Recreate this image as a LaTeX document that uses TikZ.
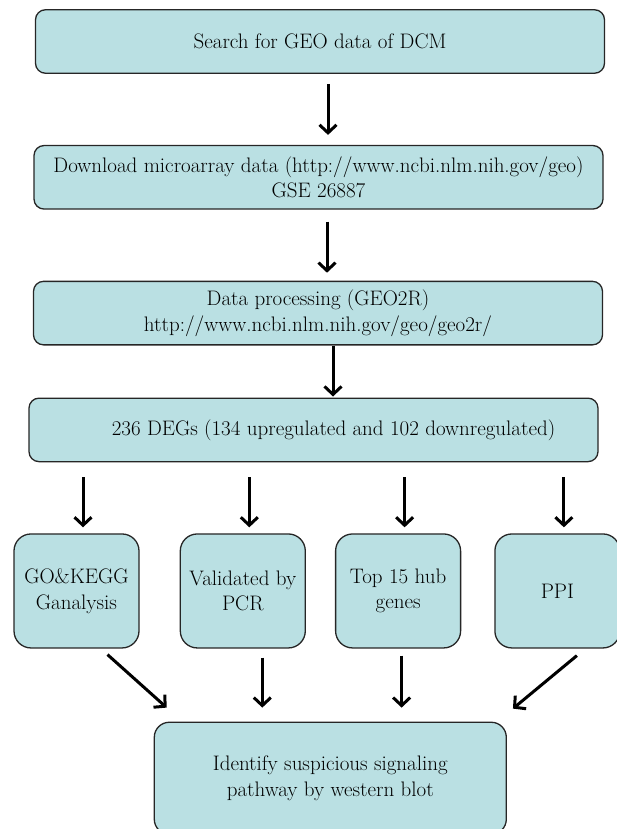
\documentclass[tikz,border=0pt]{standalone}
\usepackage{tikz}
\usetikzlibrary{arrows.meta,positioning,calc}
\definecolor{boxfill}{HTML}{BAE0E3}
\definecolor{boxline}{HTML}{262626}
\tikzset{
  mainbox/.style={rectangle,rounded corners=10pt,draw=boxline,fill=boxfill,line width=1.3pt,
    minimum width=569pt,minimum height=63.5pt,align=center,font=\fontsize{21}{25.5}\selectfont},
  rowbox/.style={mainbox,rounded corners=17pt,minimum width=125pt,minimum height=114pt,inner sep=1pt},
  endbox/.style={mainbox,rounded corners=15pt,minimum width=352pt,minimum height=112pt},
  farrow/.style={-{Straight Barb[length=8pt,width=17pt]},line width=3pt}
}

\begin{document}
\begin{tikzpicture}[node distance=71pt]
  \useasboundingbox (0,0) rectangle (616pt,-829pt);
  \node[mainbox] (search) at (320pt,-41.5pt) {Search for GEO data of DCM};
  \node[mainbox,below=of search,xshift=-1.5pt] (download) {Download microarray data (http://www.ncbi.nlm.nih.gov/geo)\\GSE 26887};
  \node[mainbox,below=of download,xshift=-0.5pt] (geotwor) {Data processing (GEO2R)\\http://www.ncbi.nlm.nih.gov/geo/geo2r/};
  \node[mainbox,below=52pt of geotwor,xshift=-4.5pt] (degs) {\hspace*{40pt}236 DEGs (134 upregulated and 102 downregulated)};
  \node[rowbox,anchor=north west] (gokegg) at ([shift={(-15pt,-71pt)}]degs.south west) {GO\&KEGG\\Ganalysis};
  \node[rowbox,right=40pt of gokegg] (pcr) {Validated by\\PCR};
  \node[rowbox,right=29pt of pcr] (hub) {Top 15 hub\\genes};
  \node[rowbox,right=33pt of hub] (ppi) {PPI};
  \node[endbox,below=73pt of pcr,xshift=87.5pt] (blot) {Identify suspicious signaling\\pathway by western blot};
  \draw[farrow,shorten <=10pt,shorten >=10pt] ([xshift=8pt]search.south) -- ([xshift=8pt]search.south |- download.north);
  \draw[farrow,shorten <=12pt,shorten >=8pt] ([xshift=8.5pt]download.south) -- ([xshift=8.5pt]download.south |- geotwor.north);
  \draw[farrow,shorten >=1pt] ([xshift=15pt]geotwor.south) -- ([xshift=15pt]geotwor.south |- degs.north);
  \foreach \n in {gokegg,pcr,hub,ppi}
    \draw[farrow,shorten <=15pt,shorten >=6pt] ([xshift=6.5pt]\n.north |- degs.south) -- ([xshift=6.5pt]\n.north);
  \draw[farrow] ([shift={(31pt,-6pt)}]gokegg.south) -- ([shift={(13pt,14pt)}]blot.north west);
  \draw[farrow,shorten <=9pt,shorten >=14pt] ([xshift=19.5pt]pcr.south) -- ([xshift=19.5pt]pcr.south |- blot.north);
  \draw[farrow,shorten <=7pt,shorten >=14pt] ([xshift=3.5pt]hub.south) -- ([xshift=3.5pt]hub.south |- blot.north);
  \draw[farrow] ([shift={(19.5pt,-7pt)}]ppi.south) -- ([shift={(6pt,13pt)}]blot.north east);
\end{tikzpicture}
\end{document}
